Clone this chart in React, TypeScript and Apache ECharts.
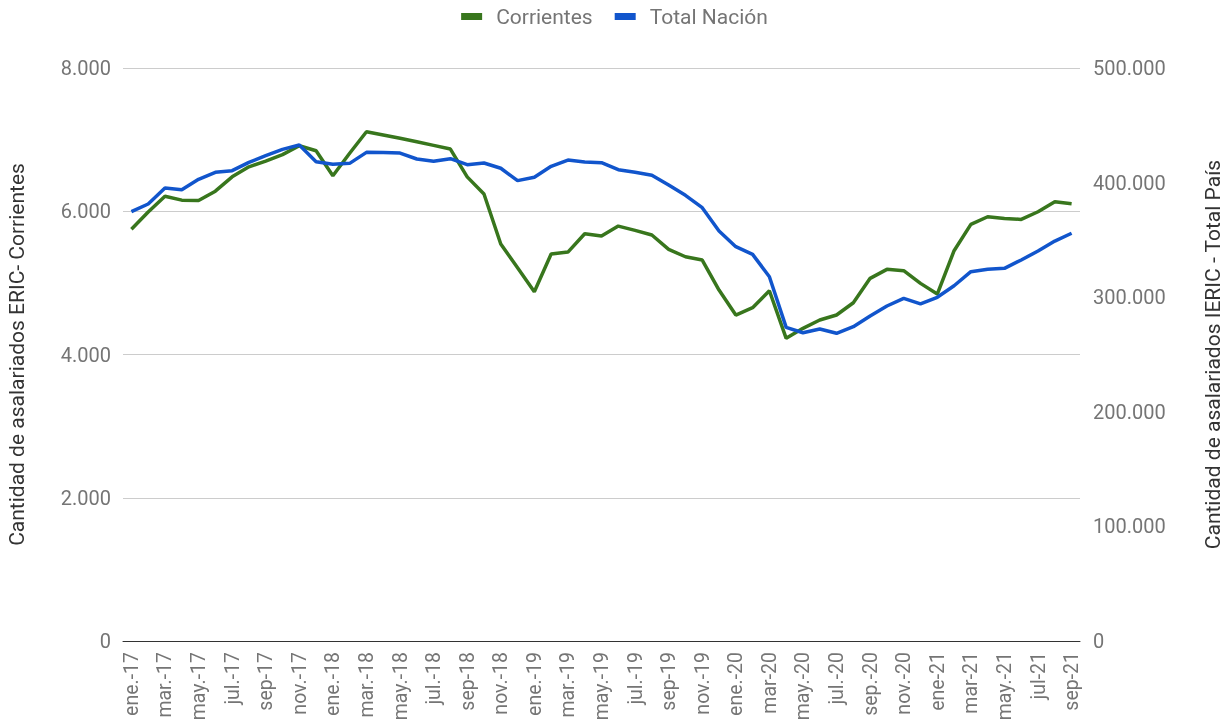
import React, { useEffect, useRef } from "react";
import * as echarts from "echarts";

const categories: string[] = [
  "ene.-17", "feb.-17", "mar.-17", "abr.-17", "may.-17", "jun.-17", "jul.-17", "ago.-17", "sep-17", "oct.-17", "nov.-17", "dic.-17",
  "ene.-18", "feb.-18", "mar.-18", "abr.-18", "may.-18", "jun.-18", "jul.-18", "ago.-18", "sep-18", "oct.-18", "nov.-18", "dic.-18",
  "ene.-19", "feb.-19", "mar.-19", "abr.-19", "may.-19", "jun.-19", "jul.-19", "ago.-19", "sep-19", "oct.-19", "nov.-19", "dic.-19",
  "ene.-20", "feb.-20", "mar-20", "abr.-20", "may.-20", "jun.-20", "jul.-20", "ago.-20", "sep.-20", "oct.-20", "nov.-20", "dic.-20",
  "ene-21", "feb-21", "mar-21", "abr-21", "may.-21", "jun-21", "jul-21", "ago-21", "sep-21",
];

const corrientes: number[] = [
  5750, 5990, 6210, 6155, 6150, 6280, 6480, 6620, 6700, 6790, 6915, 6845,
  6495, 6810, 7110, 7065, 7018, 6970, 6920, 6868, 6480, 6240, 5542, 5212,
  4877, 5403, 5430, 5686, 5654, 5793, 5733, 5668, 5468, 5365, 5319, 4900,
  4551, 4653, 4890, 4226, 4365, 4481, 4551, 4723, 5063, 5189, 5170, 4993,
  4844, 5449, 5817, 5923, 5900, 5886, 5993, 6133, 6105,
];

const totalNacion: number[] = [
  374600, 381300, 395300, 393800, 402900, 409000, 410400, 417700, 423500, 429000, 432800, 418200,
  416000, 416800, 426400, 426200, 425800, 420600, 418600, 420900, 415600, 417100, 412500, 401700,
  404600, 414200, 419700, 418000, 417400, 411300, 409000, 406400, 397900, 388900, 378100, 357800,
  344100, 337400, 317900, 273700, 269000, 272300, 268500, 274300, 283600, 292300, 299000, 294100,
  299900, 310000, 322300, 324300, 325200, 332500, 340300, 349000, 355800,
];

const fmt = (v: number) => Math.round(v).toString().replace(/\B(?=(\d{3})+(?!\d))/g, ".");

export default function App() {
  const ref = useRef<HTMLDivElement>(null);
  useEffect(() => {
    if (!ref.current) return;
    const chart = echarts.init(ref.current, null, { renderer: "svg" });
    const grey = "#757575";
    const font = "Roboto";
    chart.setOption({
      animation: false,
      textStyle: { fontFamily: font },
      legend: {
        top: 1,
        left: "center",
        icon: "rect",
        itemWidth: 21,
        itemHeight: 7,
        itemGap: 22,
        textStyle: { color: grey, fontSize: 21, fontFamily: font, padding: [0, 0, 0, 9] },
        data: ["Corrientes", "Total Nación"],
      },
      grid: { left: 123, right: 149, top: 68, bottom: 85, containLabel: false, outerBoundsMode: "none" },
      xAxis: {
        type: "category",
        data: categories,
        boundaryGap: true,
        axisLine: { show: true, lineStyle: { color: "#333", width: 1 } },
        axisTick: { show: false },
        axisLabel: {
          interval: 1,
          rotate: 90,
          color: grey,
          fontSize: 19.5,
          fontFamily: font,
          margin: 11,
        },
        splitLine: { show: false },
      },
      yAxis: [
        {
          type: "value",
          min: 0,
          max: 8000,
          interval: 2000,
          position: "left",
          name: "Cantidad de asalariados ERIC- Corrientes",
          nameLocation: "middle",
          nameRotate: 90,
          nameGap: 96,
          nameTextStyle: { color: "#333", fontSize: 21, fontFamily: font },
          axisLine: { show: false },
          axisTick: { show: false },
          axisLabel: { color: grey, fontSize: 20, fontFamily: font, margin: 12, formatter: (v: number) => fmt(v) },
          splitLine: { show: true, lineStyle: { color: "#cccccc", width: 1 } },
        },
        {
          type: "value",
          min: 0,
          max: 500000,
          interval: 100000,
          position: "right",
          name: "Cantidad de asalariados IERIC - Total País",
          nameLocation: "middle",
          nameRotate: 90,
          nameGap: 122,
          nameTextStyle: { color: "#333", fontSize: 21, fontFamily: font },
          axisLine: { show: false },
          axisTick: { show: false },
          axisLabel: { color: grey, fontSize: 20, fontFamily: font, margin: 13, formatter: (v: number) => fmt(v) },
          splitLine: { show: false },
        },
      ],
      series: [
        {
          name: "Corrientes",
          type: "line",
          yAxisIndex: 0,
          data: corrientes,
          showSymbol: false,
          symbol: "none",
          lineStyle: { color: "#38761d", width: 3.5 },
          itemStyle: { color: "#38761d" },
          z: 2,
        },
        {
          name: "Total Nación",
          type: "line",
          yAxisIndex: 1,
          data: totalNacion,
          showSymbol: false,
          symbol: "none",
          lineStyle: { color: "#1155cc", width: 3.5 },
          itemStyle: { color: "#1155cc" },
          z: 3,
        },
      ],
    });
    return () => chart.dispose();
  }, []);
  return <div ref={ref} style={{ position: "fixed", left: 0, top: 0, width: 1229, height: 726 }} />;
}
